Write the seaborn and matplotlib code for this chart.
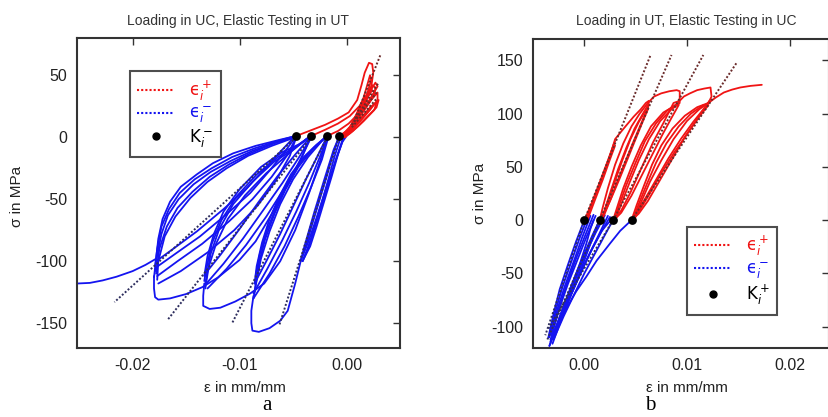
import numpy as np
import pandas as pd
import matplotlib
matplotlib.use("Agg")
import matplotlib.pyplot as plt
import seaborn as sns
from matplotlib.lines import Line2D

sns.set_theme(style="white")
plt.rcParams["font.family"] = ["Liberation Sans", "DejaVu Sans"]
plt.rcParams["mathtext.fontset"] = "dejavusans"
plt.rcParams["axes.unicode_minus"] = False

# ---------------- Panel a: Loading in UC, elastic testing in UT ----------------
A_TITLE = "Loading in UC, Elastic Testing in UT"
A_XTICKS = [-0.02, -0.01, 0.00]
A_XTICKLABELS = ["-0.02", "-0.01", "0.00"]
A_YTICKS = [-150, -100, -50, 0, 50]
A_YTICKLABELS = ["-150", "-100", "-50", "0", "50"]
A_XLIM = (-0.0252, 0.005)
A_YLIM = (-170, 80)

A_K_STRAIN = [-0.0047, -0.0033, -0.0018, -0.0007]
A_K_STRESS = [1, 1, 1, 1]

A_BLUE = [
    # initial/final monotonic compression curve
    [(-0.0252, -118), (-0.0240, -117.5), (-0.0228, -115.5), (-0.0215, -112.5), (-0.0200, -108), (-0.0188, -103), (-0.0178, -98)],
    # group 1 bows
    [(-0.0047, 1), (-0.0062, -2), (-0.0085, -7), (-0.0106, -13), (-0.0125, -21), (-0.0140, -30), (-0.0155, -40), (-0.0165, -52), (-0.0172, -66), (-0.0176, -82), (-0.0178, -98), (-0.0180, -113)],
    [(-0.0049, 0), (-0.0065, -4), (-0.0088, -11), (-0.0108, -19), (-0.0127, -28), (-0.0143, -38), (-0.0157, -50), (-0.0167, -63), (-0.0173, -78), (-0.0177, -95), (-0.0179, -108)],
    [(-0.0051, -1), (-0.0070, -7), (-0.0092, -15), (-0.0112, -25), (-0.0130, -36), (-0.0146, -49), (-0.0160, -64), (-0.0170, -80), (-0.0176, -100), (-0.0177, -115)],
    [(-0.0050, 0), (-0.0068, -5), (-0.0090, -13), (-0.0110, -22), (-0.0128, -32), (-0.0144, -44), (-0.0158, -57), (-0.0168, -72), (-0.0175, -90), (-0.0178, -110)],
    [(-0.0048, 1), (-0.0064, -3), (-0.0086, -9), (-0.0107, -16), (-0.0126, -25), (-0.0142, -34), (-0.0156, -45), (-0.0166, -58), (-0.0173, -72), (-0.0177, -90), (-0.0179, -104)],
    # group 1 returns
    [(-0.0178, -105), (-0.0160, -94), (-0.0137, -80), (-0.0112, -62), (-0.0090, -45), (-0.0072, -27), (-0.0058, -12), (-0.0047, 1)],
    [(-0.0177, -112), (-0.0158, -100), (-0.0135, -86), (-0.0110, -68), (-0.0088, -50), (-0.0070, -32), (-0.0055, -14), (-0.0047, 0)],
    [(-0.0176, -118), (-0.0155, -108), (-0.0130, -93), (-0.0105, -75), (-0.0083, -55), (-0.0066, -35), (-0.0053, -15), (-0.0047, 0)],
    [(-0.0178, -100), (-0.0162, -90), (-0.0140, -76), (-0.0115, -58), (-0.0093, -41), (-0.0075, -24), (-0.0060, -10), (-0.0048, 1)],
    # group 1 bottom excursion, towards group 2
    [(-0.0180, -112), (-0.0180, -122), (-0.0179, -129), (-0.0176, -131), (-0.0165, -130), (-0.0150, -126.5), (-0.0135, -121), (-0.0120, -113), (-0.0100, -99), (-0.0085, -84), (-0.0070, -62), (-0.0055, -38), (-0.0042, -16), (-0.0033, 0)],
    # group 2 bows
    [(-0.0033, 1), (-0.0045, -6), (-0.0060, -12), (-0.0080, -24), (-0.0100, -42), (-0.0115, -60), (-0.0124, -78), (-0.0130, -96), (-0.0133, -112)],
    [(-0.0035, 0), (-0.0050, -10), (-0.0068, -20), (-0.0088, -36), (-0.0106, -54), (-0.0119, -74), (-0.0127, -94), (-0.0132, -118)],
    [(-0.0037, -1), (-0.0055, -14), (-0.0075, -29), (-0.0095, -47), (-0.0111, -66), (-0.0122, -86), (-0.0129, -105), (-0.0132, -122)],
    [(-0.0034, 0), (-0.0048, -8), (-0.0064, -16), (-0.0084, -30), (-0.0103, -48), (-0.0117, -67), (-0.0126, -86), (-0.0131, -106), (-0.0133, -116)],
    # group 2 returns
    [(-0.0132, -110), (-0.0118, -95), (-0.0100, -74), (-0.0082, -52), (-0.0065, -32), (-0.0048, -14), (-0.0033, 1)],
    [(-0.0131, -118), (-0.0115, -102), (-0.0097, -82), (-0.0078, -59), (-0.0060, -37), (-0.0045, -17), (-0.0033, 0)],
    [(-0.0130, -122), (-0.0112, -106), (-0.0094, -87), (-0.0075, -64), (-0.0058, -41), (-0.0043, -19), (-0.0034, 0)],
    # group 2 bottom excursion, towards group 3
    [(-0.0133, -118), (-0.0134, -128), (-0.0134, -136), (-0.0128, -138.5), (-0.0118, -137.5), (-0.0104, -132.5), (-0.0090, -126), (-0.0077, -118), (-0.0062, -100), (-0.0048, -75), (-0.0035, -45), (-0.0025, -20), (-0.0018, 0)],
    # group 3 bows
    [(-0.0018, 1), (-0.0028, -6), (-0.0040, -16), (-0.0052, -30), (-0.0063, -48), (-0.0072, -66), (-0.0079, -85), (-0.0084, -104), (-0.0086, -118)],
    [(-0.0020, 0), (-0.0032, -10), (-0.0045, -24), (-0.0057, -42), (-0.0067, -61), (-0.0076, -82), (-0.0082, -102), (-0.0086, -125)],
    [(-0.0022, -2), (-0.0036, -16), (-0.0050, -34), (-0.0062, -54), (-0.0072, -76), (-0.0080, -98), (-0.0085, -120), (-0.0087, -130)],
    [(-0.0019, 0), (-0.0030, -8), (-0.0043, -20), (-0.0055, -36), (-0.0065, -55), (-0.0074, -74), (-0.0081, -94), (-0.0085, -112)],
    # group 3 returns
    [(-0.0086, -118), (-0.0075, -100), (-0.0062, -78), (-0.0050, -56), (-0.0038, -34), (-0.0027, -15), (-0.0018, 1)],
    [(-0.0087, -126), (-0.0074, -106), (-0.0060, -83), (-0.0047, -60), (-0.0035, -37), (-0.0025, -16), (-0.0018, 0)],
    [(-0.0087, -130), (-0.0072, -110), (-0.0058, -88), (-0.0045, -64), (-0.0033, -40), (-0.0023, -18), (-0.0017, 0)],
    # group 3 bottom excursion, towards group 4
    [(-0.0087, -128), (-0.0089, -140), (-0.0089, -150), (-0.0088, -156), (-0.0082, -157), (-0.0072, -154), (-0.0062, -148), (-0.0055, -140), (-0.0048, -118), (-0.0040, -90), (-0.0030, -60), (-0.0020, -32), (-0.0012, -10), (-0.0007, 0)],
    # group 4 narrow loops
    [(-0.0007, 1), (-0.0012, -12), (-0.0018, -30), (-0.0025, -50), (-0.0032, -70), (-0.0038, -88), (-0.0043, -100)],
    [(-0.0043, -100), (-0.0036, -85), (-0.0028, -65), (-0.0020, -44), (-0.0012, -24), (-0.0006, -8), (-0.0003, 0)],
    [(-0.0005, 1), (-0.0011, -15), (-0.0017, -34), (-0.0023, -52), (-0.0030, -72), (-0.0036, -90), (-0.0041, -100)],
    [(-0.0041, -100), (-0.0033, -82), (-0.0025, -60), (-0.0017, -38), (-0.0010, -18), (-0.0004, -4), (0.0000, 1)],
    [(-0.0002, 1), (-0.0008, -14), (-0.0014, -32), (-0.0021, -52), (-0.0028, -72), (-0.0034, -88), (-0.0040, -98)],
]

A_RED = [
    [(-0.0047, 1), (-0.0035, 5), (-0.0020, 10), (-0.0008, 15), (0.0002, 20), (0.0010, 30), (0.0014, 42), (0.0017, 52), (0.0021, 60), (0.0024, 59), (0.0025, 52), (0.0023, 40), (0.0018, 28), (0.0012, 18), (0.0005, 9), (-0.0002, 3), (-0.0005, 0)],
    [(-0.0033, 1), (-0.0020, 6), (-0.0008, 11), (0.0003, 17), (0.0012, 25), (0.0018, 33), (0.0024, 42), (0.0027, 40), (0.0026, 34), (0.0020, 26), (0.0012, 16), (0.0004, 7), (-0.0003, 1)],
    [(-0.0018, 1), (-0.0008, 5), (0.0002, 11), (0.0010, 18), (0.0018, 25), (0.0025, 32), (0.0029, 36), (0.0029, 30), (0.0022, 22), (0.0013, 13), (0.0004, 5), (-0.0002, 0)],
    [(-0.0007, 1), (0.0002, 6), (0.0010, 12), (0.0018, 19), (0.0025, 26), (0.0030, 30), (0.0028, 24), (0.0020, 17), (0.0011, 9), (0.0003, 3), (-0.0002, 0)],
    [(-0.0006, 0), (0.0005, 10), (0.0016, 27), (0.0024, 38), (0.0026, 36), (0.0017, 24), (0.0006, 10), (0.0000, 2)],
    [(-0.0004, 0), (0.0003, 8), (0.0012, 22), (0.0020, 34), (0.0027, 44), (0.0029, 41), (0.0021, 29), (0.0010, 14), (0.0002, 3)],
    [(-0.0003, 0), (0.0004, 5), (0.0014, 16), (0.0022, 24), (0.0028, 28), (0.0026, 22), (0.0016, 13), (0.0006, 5), (0.0000, 1)],
    [(-0.0001, 0), (0.0004, 9), (0.0010, 20), (0.0016, 32), (0.0020, 44), (0.0022, 50), (0.0023, 46), (0.0019, 34), (0.0012, 20), (0.0005, 8)],
]

A_DOT_LOW = [
    [(-0.0047, 0), (-0.0217, -133)],
    [(-0.0033, 0), (-0.0167, -147)],
    [(-0.0018, 0), (-0.0107, -150)],
    [(-0.0007, 0), (-0.0063, -152)],
]
A_DOT_HIGH = [
    [(0.0008, 15), (0.0032, 67)],
    [(0.0005, 10), (0.0030, 44)],
    [(0.0005, 10), (0.0029, 37)],
    [(0.0005, 8), (0.0028, 31)],
]

# ---------------- Panel b: Loading in UT, elastic testing in UC ----------------
B_TITLE = "Loading in UT, Elastic Testing in UC"
B_XTICKS = [0.00, 0.01, 0.02]
B_XTICKLABELS = ["0.00", "0.01", "0.02"]
B_YTICKS = [-100, -50, 0, 50, 100, 150]
B_YTICKLABELS = ["-100", "-50", "0", "50", "100", "150"]
B_XLIM = (-0.005, 0.0238)
B_YLIM = (-120, 170)

B_K_STRAIN = [0.0, 0.0015, 0.0028, 0.0046]
B_K_STRESS = [0, 0, 0, 0]

B_RED = [
    # monotonic loading to first peak, unloading to K2
    [(0.0000, 0), (0.0002, 4), (0.0010, 22), (0.0018, 40), (0.0025, 60), (0.0030, 76), (0.0035, 82), (0.0041, 89), (0.0048, 97), (0.0055, 104), (0.0060, 110), (0.0063, 112), (0.0062, 104), (0.0058, 95), (0.0050, 76), (0.0042, 57), (0.0034, 38), (0.0026, 20), (0.0019, 6), (0.0015, 0)],
    [(0.0001, 0), (0.0008, 18), (0.0016, 38), (0.0023, 56), (0.0029, 72)],
    [(0.0003, 0), (0.0010, 18), (0.0018, 38), (0.0025, 57), (0.0030, 70)],
    [(0.0002, 0), (0.0009, 19), (0.0017, 39), (0.0024, 58), (0.0030, 74)],
    # group 2 lens
    [(0.0015, 0), (0.0018, 12), (0.0023, 30), (0.0030, 52), (0.0038, 72), (0.0046, 88), (0.0054, 100), (0.0062, 110)],
    [(0.0016, 0), (0.0020, 10), (0.0026, 28), (0.0033, 48), (0.0041, 68), (0.0049, 86), (0.0056, 98), (0.0062, 108)],
    [(0.0062, 106), (0.0056, 92), (0.0048, 74), (0.0040, 55), (0.0032, 36), (0.0025, 18), (0.0019, 4), (0.0016, 0)],
    [(0.0017, 0), (0.0022, 14), (0.0029, 34), (0.0037, 56), (0.0045, 76), (0.0053, 92), (0.0061, 105)],
    # plastic to second peak, unload to K3
    [(0.0062, 110), (0.0068, 116), (0.0075, 119), (0.0083, 121), (0.0090, 122), (0.0093, 121), (0.0093, 112), (0.0087, 110), (0.0077, 91), (0.0067, 73), (0.0055, 47.5), (0.0045, 26), (0.0036, 9), (0.0028, 0)],
    # group 3 lens
    [(0.0028, 0), (0.0032, 12), (0.0038, 30), (0.0046, 50), (0.0055, 70), (0.0065, 88), (0.0077, 101), (0.0093, 110)],
    [(0.0029, 0), (0.0034, 14), (0.0041, 33), (0.0050, 54), (0.0059, 74), (0.0070, 91), (0.0081, 103), (0.0093, 111)],
    [(0.0092, 108), (0.0085, 96), (0.0076, 80), (0.0066, 61), (0.0056, 42), (0.0046, 23), (0.0036, 7), (0.0029, 0)],
    [(0.0030, 0), (0.0036, 15), (0.0044, 35), (0.0053, 56), (0.0063, 76), (0.0074, 93), (0.0085, 104), (0.0092, 109)],
    # plastic to third peak, unload to K4
    [(0.0093, 112), (0.0097, 116), (0.0103, 119), (0.0110, 122), (0.0117, 123.5), (0.0123, 124.5), (0.0124, 116), (0.0121, 110), (0.0110, 95), (0.0098, 78), (0.0086, 58), (0.0074, 38), (0.0062, 18), (0.0053, 6), (0.0046, 0)],
    # group 4 lens
    [(0.0046, 0), (0.0051, 14), (0.0058, 32), (0.0066, 52), (0.0075, 70), (0.0086, 86), (0.0098, 98), (0.0110, 106), (0.0121, 110)],
    [(0.0046, 0), (0.0058, 18), (0.0070, 38), (0.0082, 58), (0.0094, 76), (0.0106, 92), (0.0116, 104), (0.0122, 112)],
    [(0.0047, 0), (0.0055, 16), (0.0064, 36), (0.0075, 56), (0.0087, 76), (0.0100, 93), (0.0112, 104), (0.0121, 110)],
    [(0.0048, 0), (0.0062, 22), (0.0075, 44), (0.0088, 64), (0.0101, 82), (0.0112, 97), (0.0121, 108)],
    [(0.0047, 0), (0.0053, 15), (0.0061, 34), (0.0070, 54), (0.0080, 72), (0.0092, 88), (0.0104, 100), (0.0116, 108)],
    # final loading
    [(0.0121, 110), (0.0128, 115), (0.0136, 119.8), (0.0144, 122.5), (0.0152, 124.5), (0.0162, 126), (0.0173, 127)],
]

B_BLUE = [
    [(0.0000, 0), (-0.0008, -20), (-0.0016, -42), (-0.0024, -65), (-0.0030, -88), (-0.0035, -110)],
    [(0.0003, 2), (-0.0005, -18), (-0.0013, -40), (-0.0021, -62), (-0.0028, -85), (-0.0033, -105)],
    [(0.0006, 4), (-0.0002, -16), (-0.0010, -38), (-0.0019, -62), (-0.0027, -86), (-0.0034, -110)],
    [(0.0009, 5), (0.0001, -14), (-0.0008, -36), (-0.0017, -60), (-0.0025, -84), (-0.0032, -108)],
    [(0.0015, 0), (0.0006, -20), (-0.0003, -42), (-0.0012, -64), (-0.0021, -86), (-0.0030, -110)],
    [(0.0011, 4), (0.0002, -16), (-0.0007, -38), (-0.0016, -60), (-0.0024, -82), (-0.0032, -108)],
    [(0.0017, 4), (0.0008, -14), (-0.0002, -36), (-0.0012, -60), (-0.0021, -84), (-0.0030, -108)],
    [(0.0020, 4.5), (0.0011, -12), (0.0001, -32), (-0.0009, -54), (-0.0019, -78), (-0.0028, -102), (-0.0033, -114)],
    [(0.0028, 0), (0.0020, -14), (0.0010, -32), (0.0000, -50), (-0.0010, -70), (-0.0020, -90), (-0.0030, -112)],
    [(0.0023, 4), (0.0014, -14), (0.0004, -34), (-0.0006, -55), (-0.0016, -76), (-0.0026, -98), (-0.0032, -112)],
    [(0.0025, 3), (0.0016, -12), (0.0006, -30), (-0.0004, -50), (-0.0014, -72), (-0.0024, -94), (-0.0031, -110)],
    [(0.0046, 0), (0.0035, -10), (0.0025, -22), (0.0012, -38), (0.0002, -53), (-0.0008, -67), (-0.0017, -82), (-0.0025, -96), (-0.0030, -106), (-0.0034, -118)],
    [(-0.0034, -118), (-0.0028, -104), (-0.0020, -86), (-0.0011, -66), (-0.0002, -46), (0.0008, -26), (0.0017, -10), (0.0024, -2), (0.0028, 0)],
    [(-0.0031, -116), (-0.0025, -100), (-0.0017, -80), (-0.0008, -58), (0.0000, -38), (0.0006, -22), (0.0012, -8), (0.0015, 0)],
    [(-0.0033, -112), (-0.0026, -96), (-0.0019, -78), (-0.0011, -58), (-0.0004, -40), (0.0002, -22), (0.0006, -8), (0.0009, 0)],
]

B_DOT_LOW = [
    [(0.0000, 0), (-0.0038, -108)],
    [(0.0015, 0), (-0.0036, -112)],
    [(0.0028, 0), (-0.0035, -102)],
]
B_DOT_HIGH = [
    [(0.0000, 0), (0.00646, 155)],
    [(0.0015, 0), (0.0085, 155)],
    [(0.0028, 0), (0.0116, 155)],
    [(0.0046, 0), (0.01487, 148)],
]

XLABEL = "ε in mm/mm"
YLABEL = "σ in MPa"

RED = "#f01414"
BLUE = "#1414f0"
DOT_LOW = "#2e2e5e"
DOT_HIGH = "#6a2a2a"
TXT = "#222222"


def paths_df(paths):
    rows = []
    for i, p in enumerate(paths):
        for j, (x, y) in enumerate(p):
            rows.append((i, j, x, y))
    return pd.DataFrame(rows, columns=["seg", "order", "strain", "stress"])


def draw(ax, paths, color, lw, z, dotted=False):
    df = paths_df(paths)
    kw = dict(linestyle=(0, (1, 1))) if dotted else {}
    sns.lineplot(data=df, x="strain", y="stress", units="seg", estimator=None,
                 sort=False, color=color, lw=lw, ax=ax, zorder=z, legend=False, **kw)


def style_axes(ax, xlim, ylim, xt, xtl, yt, ytl):
    ax.set_xlim(*xlim)
    ax.set_ylim(*ylim)
    ax.set_xticks(xt)
    ax.set_xticklabels(xtl)
    ax.set_yticks(yt)
    ax.set_yticklabels(ytl)
    ax.set_xlabel("")
    ax.set_ylabel("")
    ax.tick_params(direction="in", top=True, right=True, length=5, width=1,
                   color="#333333", labelcolor=TXT, labelsize=11.5, pad=7)
    for s in ax.spines.values():
        s.set_color("#333333")
        s.set_linewidth(1.5)


def legend(ax, anchor, klabel):
    handles = [Line2D([], [], color=RED, lw=1.5, linestyle=(0, (1, 1))),
               Line2D([], [], color=BLUE, lw=1.5, linestyle=(0, (1, 1))),
               Line2D([], [], color="black", lw=0, marker="o", markersize=5)]
    labels = [r"$\mathrm{ϵ}_i^+$", r"$\mathrm{ϵ}_i^-$", klabel]
    lg = ax.legend(handles, labels, loc="upper left", bbox_to_anchor=anchor,
                   borderaxespad=0, frameon=True, fancybox=False, fontsize=12,
                   handlelength=2.2, handletextpad=0.9, labelspacing=0.1,
                   borderpad=0.45)
    lg.get_frame().set_edgecolor("#222222")
    lg.get_frame().set_linewidth(1.5)
    for t, c in zip(lg.get_texts(), [RED, BLUE, "black"]):
        t.set_color(c)
    lg.set_zorder(10)


W, H = 829, 417
fig = plt.figure(figsize=(W / 100, H / 100), dpi=100)

axa = fig.add_axes([77 / W, 1 - 348 / H, 323 / W, 310 / H])
draw(axa, A_BLUE, BLUE, 1.3, 2)
draw(axa, A_RED, RED, 1.3, 3)
draw(axa, A_DOT_LOW, DOT_LOW, 1.4, 4, dotted=True)
draw(axa, A_DOT_HIGH, DOT_HIGH, 1.4, 4, dotted=True)
sns.scatterplot(x=A_K_STRAIN, y=A_K_STRESS, color="black", s=40, ax=axa, zorder=5, linewidth=0)
style_axes(axa, A_XLIM, A_YLIM, A_XTICKS, A_XTICKLABELS, A_YTICKS, A_YTICKLABELS)
legend(axa, ((130 - 77) / 323, (348 - 71) / 310), r"$\mathrm{K}_i^-$")

axb = fig.add_axes([533 / W, 1 - 348 / H, 295.5 / W, 309 / H])
draw(axb, B_BLUE, BLUE, 1.3, 2)
draw(axb, B_RED, RED, 1.3, 3)
draw(axb, B_DOT_LOW, DOT_LOW, 1.4, 4, dotted=True)
draw(axb, B_DOT_HIGH, DOT_HIGH, 1.4, 4, dotted=True)
sns.scatterplot(x=B_K_STRAIN, y=B_K_STRESS, color="black", s=40, ax=axb, zorder=5, linewidth=0)
style_axes(axb, B_XLIM, B_YLIM, B_XTICKS, B_XTICKLABELS, B_YTICKS, B_YTICKLABELS)
legend(axb, ((686.7 - 533) / 295.5, (348 - 226.7) / 309), r"$\mathrm{K}_i^+$")

def ftext(x, y, s, **kw):
    fig.text(x / W, 1 - y / H, s, ha="center", va="center", **kw)

ftext(238, 21, A_TITLE, fontsize=10, color="#333333")
ftext(686, 21, B_TITLE, fontsize=10, color="#333333")
ftext(245, 388, XLABEL, fontsize=11, color=TXT)
ftext(687, 388, XLABEL, fontsize=11, color=TXT)
ftext(17, 196, YLABEL, fontsize=11, color=TXT, rotation=90)
ftext(480, 193, YLABEL, fontsize=11, color=TXT, rotation=90)
ftext(267, 406, "a", fontsize=15, color="black", family="Liberation Serif")
ftext(650, 406, "b", fontsize=15, color="black", family="Liberation Serif")

fig.savefig("out.png", dpi=100)
